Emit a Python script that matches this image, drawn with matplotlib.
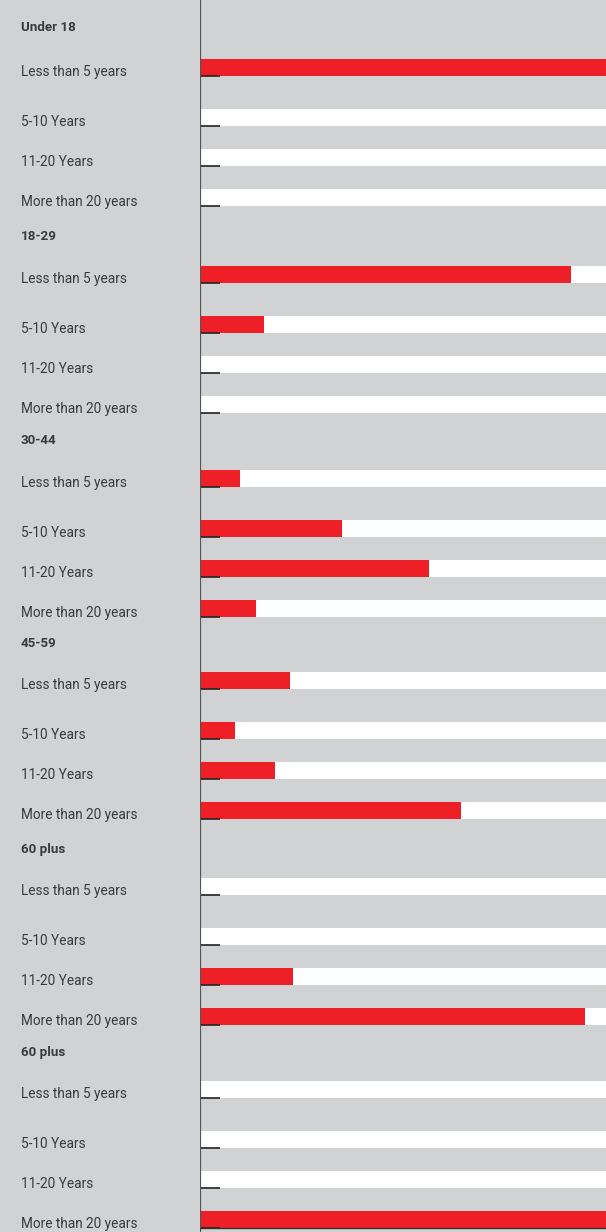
import matplotlib.pyplot as plt

# age groups and how long respondents have lived there (% of the widest bar)
groups = ["Under 18", "18-29", "30-44", "45-59", "60 plus", "60 plus"]
periods = ["Less than 5 years", "5-10 Years", "11-20 Years", "More than 20 years"]

under_18 = [100, 0, 0, 0]
age_18_29 = [91.4, 15.8, 0, 0]
age_30_44 = [9.9, 35.0, 56.4, 13.8]
age_45_59 = [22.2, 8.6, 18.5, 64.3]
age_60_plus = [0, 0, 22.9, 94.8]
age_60_plus_2 = [0, 0, 0, 100]
values = [under_18, age_18_29, age_30_44, age_45_59, age_60_plus, age_60_plus_2]

GRAY = "#d1d2d4"
RED = "#ee1f26"
TEXT = "#3a3a3a"

plt.rcParams["font.family"] = ["Roboto", "DejaVu Sans"]

W, H = 606, 1232
fig = plt.figure(figsize=(W / 100, H / 100), dpi=100)
fig.patch.set_facecolor(GRAY)

# bar panel starts at x=200px, y axis measured in pixel rows from the top
ax = fig.add_axes([200 / W, 0, 406 / W, 1])
ax.set_facecolor(GRAY)
ax.set_xlim(0, 100)
ax.set_ylim(H, 0)
ax.axis("off")

label_x = (21 - 200) / 406   # axes coords for the left text column
header_base = [31, 240, 444, 647, 853, 1056]
group_top = [59, 266, 470, 672, 878, 1081]
row_offsets = [0, 50, 90, 130]
bar_h = 17
tick_len = 20 / 406 * 100

trans = ax.get_yaxis_transform()
for name, vals, hb, top in zip(groups, values, header_base, group_top):
    ax.text(label_x, hb, name, transform=trans, fontsize=9.6,
            fontweight="bold", color=TEXT, va="baseline", clip_on=False)
    for off, period, v in zip(row_offsets, periods, vals):
        y0 = top + off
        yc = y0 + bar_h / 2
        ax.barh(yc, 100, height=bar_h, color="white", linewidth=0)
        ax.barh(yc, v, height=bar_h, color=RED, linewidth=0)
        ax.plot([0, tick_len], [y0 + bar_h, y0 + bar_h], color="#222222",
                lw=1.2, solid_capstyle="butt")
        ax.text(label_x, y0 + bar_h, period, transform=trans, fontsize=9.8,
                color=TEXT, va="baseline", clip_on=False)

ax.axvline(0, color="#555555", lw=1.6)
ax.axhline(1228, color="#333333", lw=1)

fig.savefig("out.png", dpi=100, facecolor=GRAY)
